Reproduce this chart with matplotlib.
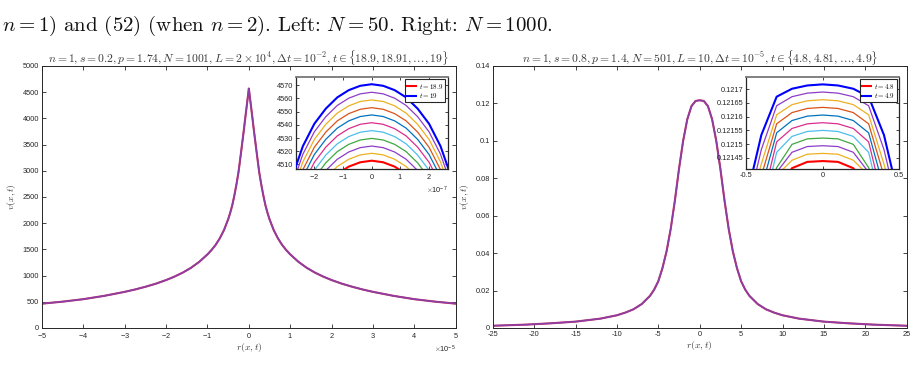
import numpy as np
import matplotlib
matplotlib.use("Agg")
import matplotlib.pyplot as plt
from matplotlib.ticker import ScalarFormatter

plt.rcParams['mathtext.fontset'] = 'cm'
plt.rcParams['font.family'] = ['Liberation Sans', 'DejaVu Sans']
plt.rcParams['axes.unicode_minus'] = False

# ---------------- data ----------------
# Left main panel: v(x,t) versus r(x,t) (right half, r >= 0, curve is symmetric)
r_left_half = [0, 0.01e-5, 0.02e-5, 0.03e-5, 0.05e-5, 0.07e-5, 0.09e-5, 0.11e-5, 0.13e-5,
               0.15e-5, 0.18e-5, 0.21e-5, 0.25e-5, 0.3e-5, 0.35e-5, 0.4e-5, 0.45e-5,
               0.5e-5, 0.6e-5, 0.7e-5, 0.8e-5, 0.9e-5, 1.0e-5, 1.2e-5, 1.4e-5, 1.6e-5,
               1.8e-5, 2.0e-5, 2.25e-5, 2.5e-5, 2.75e-5, 3.0e-5, 3.5e-5, 4.0e-5, 4.5e-5, 5.0e-5]
v_left_half = [4570, 4505, 4440, 4375, 4245, 4115, 3985, 3850, 3720,
               3595, 3405, 3220, 2975, 2740, 2530, 2345, 2200,
               2075, 1870, 1715, 1590, 1490, 1405, 1262, 1148, 1056,
               980, 915, 845, 787, 735, 690, 613, 550, 503, 465]

# Right main panel
r_right_half = [0, 0.5, 1, 1.5, 2, 2.5, 3, 3.5, 4, 4.5, 5, 5.5, 6, 7, 8, 9, 10, 12, 15, 18, 21, 25]
v_right_half = [0.1217, 0.1213, 0.1185, 0.1115, 0.100, 0.085, 0.068, 0.053, 0.041, 0.032,
                0.025, 0.0205, 0.0172, 0.0128, 0.0100, 0.0082, 0.0068, 0.0050, 0.0034,
                0.0025, 0.0018, 0.0012]

# Left inset: zoom near the peak, one curve per time t = 18.9, 18.91, ..., 19
r_inset_left_half = [0, 0.4e-7, 0.8e-7, 1.2e-7, 1.6e-7, 2.0e-7, 2.4e-7, 2.8e-7, 3.2e-7]
v_inset_left = [
    [4512.8, 4511.6, 4508.3, 4502.8, 4494.3, 4482.8, 4465.8, 4440.8, 4412.8],
    [4518.4, 4517.2, 4513.9, 4508.4, 4499.9, 4488.4, 4471.4, 4446.4, 4418.4],
    [4523.9, 4522.7, 4519.4, 4513.9, 4505.4, 4493.9, 4476.9, 4451.9, 4423.9],
    [4529.7, 4528.5, 4525.2, 4519.7, 4511.2, 4499.7, 4482.7, 4457.7, 4429.7],
    [4535.6, 4534.4, 4531.1, 4525.6, 4517.1, 4505.6, 4488.6, 4463.6, 4435.6],
    [4541.6, 4540.4, 4537.1, 4531.6, 4523.1, 4511.6, 4494.6, 4469.6, 4441.6],
    [4547.5, 4546.3, 4543.0, 4537.5, 4529.0, 4517.5, 4500.5, 4475.5, 4447.5],
    [4553.0, 4551.8, 4548.5, 4543.0, 4534.5, 4523.0, 4506.0, 4481.0, 4453.0],
    [4558.9, 4557.7, 4554.4, 4548.9, 4540.4, 4528.9, 4511.9, 4486.9, 4458.9],
    [4564.7, 4563.5, 4560.2, 4554.7, 4546.2, 4534.7, 4517.7, 4492.7, 4464.7],
    [4570.8, 4569.6, 4566.3, 4560.8, 4552.3, 4540.8, 4523.8, 4498.8, 4470.8],
]
t_left = ["18.9", "18.91", "18.92", "18.93", "18.94", "18.95", "18.96", "18.97", "18.98", "18.99", "19"]

# Right inset, t = 4.8, 4.81, ..., 4.9
r_inset_right_half = [0, 0.1, 0.2, 0.3, 0.4, 0.5]
v_inset_right = [
    [0.121438, 0.121435, 0.121412, 0.121328, 0.121118, 0.120898],
    [0.121466, 0.121463, 0.121441, 0.121385, 0.121146, 0.120926],
    [0.121494, 0.121491, 0.121470, 0.121397, 0.121164, 0.120954],
    [0.121522, 0.121519, 0.121499, 0.121414, 0.121192, 0.120982],
    [0.121550, 0.121546, 0.121528, 0.121470, 0.121235, 0.121030],
    [0.121578, 0.121574, 0.121557, 0.121508, 0.121278, 0.121078],
    [0.121606, 0.121602, 0.121586, 0.121541, 0.121338, 0.121136],
    [0.121634, 0.121630, 0.121615, 0.121574, 0.121384, 0.121184],
    [0.121662, 0.121658, 0.121644, 0.121607, 0.121427, 0.121227],
    [0.121690, 0.121686, 0.121673, 0.121640, 0.121480, 0.121243],
    [0.121718, 0.121714, 0.121702, 0.121673, 0.121533, 0.121295],
]
t_right = ["4.8", "4.81", "4.82", "4.83", "4.84", "4.85", "4.86", "4.87", "4.88", "4.89", "4.9"]

line_colors = ['#FF0000', '#EDB120', '#8E3CC8', '#3FA83F', '#4DBEEE', '#DB2D8E',
               '#0072BD', '#D95319', '#EDB120', '#8E3CC8', '#0000FF']

title_left = r"$n=1, s=0.2, p=1.74, N=1001, L=2\times10^4, \Delta t=10^{-2}, t\in\{18.9,18.91,\ldots,19\}$"
title_right = r"$n=1, s=0.8, p=1.4, N=501, L=10, \Delta t=10^{-5}, t\in\{4.8,4.81,\ldots,4.9\}$"
page_text = r"$n=1$) and (52) (when $n=2$). Left: $N=50$. Right: $N=1000$."


def mirror(xh, yh):
    xh = np.asarray(xh, float)
    yh = np.asarray(yh, float)
    return np.concatenate([-xh[:0:-1], xh]), np.concatenate([yh[:0:-1], yh])


# ---------------- figure ----------------
W, H = 918, 383
fig = plt.figure(figsize=(W / 100, H / 100), dpi=100)


def frac(x0, y0, x1, y1):
    return [x0 / W, 1 - y1 / H, (x1 - x0) / W, (y1 - y0) / H]


tick_fs = 5.3
gray_txt = '#3a3a3a'
main_color = '#8B3FA6'


def style_axes(ax, lw=0.7, color='#262626'):
    for s in ax.spines.values():
        s.set_linewidth(lw)
        s.set_color(color)
    ax.tick_params(direction='in', length=3, width=0.6, labelsize=tick_fs,
                   top=True, right=True, colors='#262626', pad=2)


# Left main
axL = fig.add_axes(frac(42, 66, 455.7, 328))
x, y = mirror(r_left_half, v_left_half)
axL.plot(x, y, color='#C03060', lw=1.5)
axL.plot(x, y, color=main_color, lw=1.1)
axL.set_xlim(-5e-5, 5e-5)
axL.set_ylim(0, 5000)
axL.set_xticks(np.arange(-5, 6) * 1e-5)
axL.set_yticks(np.arange(0, 5001, 500))
fmt = ScalarFormatter(useMathText=True)
fmt.set_powerlimits((-3, 3))
axL.xaxis.set_major_formatter(fmt)
style_axes(axL)
axL.xaxis.get_offset_text().set_fontsize(tick_fs)
axL.set_title(title_left, fontsize=8.4, color=gray_txt, pad=2)
axL.set_xlabel(r"$r(x,t)$", fontsize=7, color=gray_txt, labelpad=1)
axL.set_ylabel(r"$v(x,t)$", fontsize=7, color=gray_txt, labelpad=3.5)

# Right main
axR = fig.add_axes(frac(492.7, 66, 906.7, 328))
x, y = mirror(r_right_half, v_right_half)
axR.plot(x, y, color='#C03060', lw=1.5)
axR.plot(x, y, color=main_color, lw=1.1)
axR.set_xlim(-25, 25)
axR.set_ylim(0, 0.14)
axR.set_xticks(np.arange(-25, 26, 5))
axR.set_yticks(np.arange(0, 0.141, 0.02))
axR.set_yticklabels(['0', '0.02', '0.04', '0.06', '0.08', '0.1', '0.12', '0.14'])
style_axes(axR)
axR.set_title(title_right, fontsize=8.4, color=gray_txt, pad=2)
axR.set_xlabel(r"$r(x,t)$", fontsize=7, color=gray_txt, labelpad=1)
axR.set_ylabel(r"$v(x,t)$", fontsize=7, color=gray_txt, labelpad=3.5)

# Left inset
iL = fig.add_axes(frac(295.7, 76.7, 447.7, 169))
for i, vals in enumerate(v_inset_left):
    xx, yy = mirror(r_inset_left_half, vals)
    thick = i in (0, len(v_inset_left) - 1)
    lab = r"$t=%s$" % t_left[i] if thick else None
    iL.plot(xx, yy, color=line_colors[i], lw=1.5 if thick else 0.9, label=lab,
            zorder=3 if thick else 2)
iL.set_xlim(-2.65e-7, 2.65e-7)
iL.set_ylim(4506.5, 4576.5)
iL.set_xticks(np.arange(-2, 3) * 1e-7)
iL.set_yticks(np.arange(4510, 4571, 10))
fmtI = ScalarFormatter(useMathText=True)
fmtI.set_powerlimits((-3, 3))
iL.xaxis.set_major_formatter(fmtI)
style_axes(iL, lw=0.9)
iL.tick_params(length=2.5)
iL.xaxis.get_offset_text().set_fontsize(tick_fs)
iL.spines['top'].set_color('#777777')
iL.spines['top'].set_linewidth(1.3)
legL = iL.legend(loc='upper right', fontsize=5, handlelength=1.4, handletextpad=0.3,
                 borderpad=0.3, labelspacing=0.1, fancybox=False, framealpha=1,
                 edgecolor='#262626', borderaxespad=0.4)
legL.get_frame().set_linewidth(0.8)

# Right inset
iR = fig.add_axes(frac(746, 76.7, 899.3, 169))
for i, vals in enumerate(v_inset_right):
    xx, yy = mirror(r_inset_right_half, vals)
    thick = i in (0, len(v_inset_right) - 1)
    lab = r"$t=%s$" % t_right[i] if thick else None
    iR.plot(xx, yy, color=line_colors[i], lw=1.5 if thick else 0.9, label=lab,
            zorder=3 if thick else 2)
iR.set_xlim(-0.5, 0.5)
iR.set_ylim(0.121409, 0.121746)
iR.set_xticks([-0.5, 0, 0.5])
iR.set_xticklabels(['-0.5', '0', '0.5'])
iR.set_yticks([0.12145, 0.1215, 0.12155, 0.1216, 0.12165, 0.1217])
iR.set_yticklabels(['0.12145', '0.1215', '0.12155', '0.1216', '0.12165', '0.1217'])
style_axes(iR, lw=0.9)
iR.tick_params(length=2.5)
iR.spines['top'].set_color('#777777')
iR.spines['top'].set_linewidth(1.3)
legR = iR.legend(loc='upper right', fontsize=5, handlelength=1.4, handletextpad=0.3,
                 borderpad=0.3, labelspacing=0.1, fancybox=False, framealpha=1,
                 edgecolor='#262626', borderaxespad=0.4)
legR.get_frame().set_linewidth(0.8)

# page text above the figure
fig.text(2 / W, 1 - 26 / H, page_text, fontsize=15, family='cmr10', color='#111111',
         va='center', ha='left')

fig.savefig("out.png", dpi=100)
